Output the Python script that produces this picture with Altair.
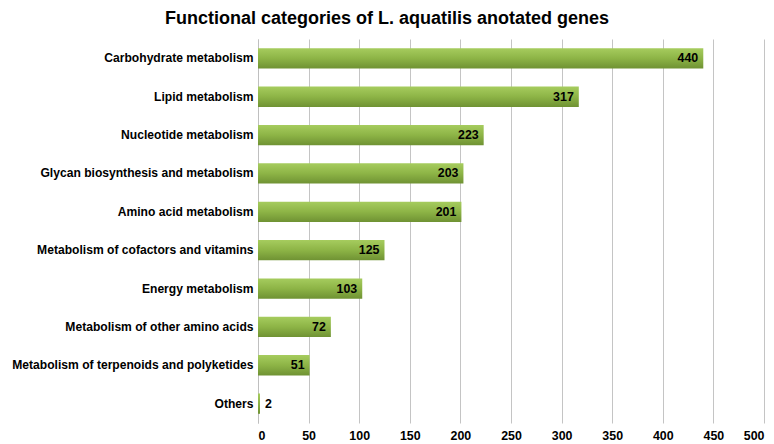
import altair as alt
import pandas as pd

categories = [
    "Carbohydrate metabolism",
    "Lipid metabolism",
    "Nucleotide metabolism",
    "Glycan biosynthesis and metabolism",
    "Amino acid metabolism",
    "Metabolism of cofactors and vitamins",
    "Energy metabolism",
    "Metabolism of other amino acids",
    "Metabolism of terpenoids and polyketides",
    "Others",
]
counts = [440, 317, 223, 203, 201, 125, 103, 72, 51, 2]

df = pd.DataFrame({"category": categories, "count": counts})

FONT = "Liberation Sans"
FS = 12.4

y_enc = alt.Y("category:N", sort=categories, title=None,
              scale=alt.Scale(paddingInner=0.47, paddingOuter=0.24),
              axis=alt.Axis(labelFont=FONT, labelFontWeight="bold", labelFontSize=12.1,
                            labelColor="black", ticks=False, domain=True,
                            domainColor="#bfbfbf", labelPadding=5, labelLimit=300))
x_enc = alt.X("count:Q", title=None,
              scale=alt.Scale(domain=[0, 500], nice=False),
              axis=alt.Axis(values=list(range(0, 501, 50)), labelFont=FONT,
                            labelFontWeight="bold", labelFontSize=FS, labelColor="black",
                            ticks=False, domain=False, grid=True, gridColor="#c4c4c4",
                            labelPadding=6))

grad = alt.Gradient(
    gradient="linear",
    stops=[alt.GradientStop(color="#a6cc5e", offset=0),
           alt.GradientStop(color="#8db446", offset=0.5),
           alt.GradientStop(color="#6f9233", offset=1)],
    x1=0, x2=0, y1=0, y2=1,
)

bars = alt.Chart(df).mark_bar(color=grad).encode(x=x_enc, y=y_enc)

inside = alt.Chart(df).transform_filter("datum.count >= 20").mark_text(
    align="right", baseline="middle", dx=-5, font=FONT, fontWeight="bold",
    fontSize=FS, color="black"
).encode(x="count:Q", y=alt.Y("category:N", sort=categories), text="count:Q")

outside = alt.Chart(df).transform_filter("datum.count < 20").mark_text(
    align="left", baseline="middle", dx=5, font=FONT, fontWeight="bold",
    fontSize=FS, color="black"
).encode(x="count:Q", y=alt.Y("category:N", sort=categories), text="count:Q")

chart = alt.layer(bars, inside, outside).properties(
    width=506, height=384,
    title=alt.TitleParams("Functional categories of L. aquatilis anotated genes",
                          font=FONT, fontSize=18, fontWeight="bold", color="black",
                          anchor="middle", offset=11, dx=-124),
    autosize=alt.AutoSizeParams(type="none"),
    padding={"left": 250, "top": 31, "right": 2, "bottom": 18},
).configure_view(stroke=None)

chart.save("out.html", embed_options={"renderer": "svg", "actions": False})
